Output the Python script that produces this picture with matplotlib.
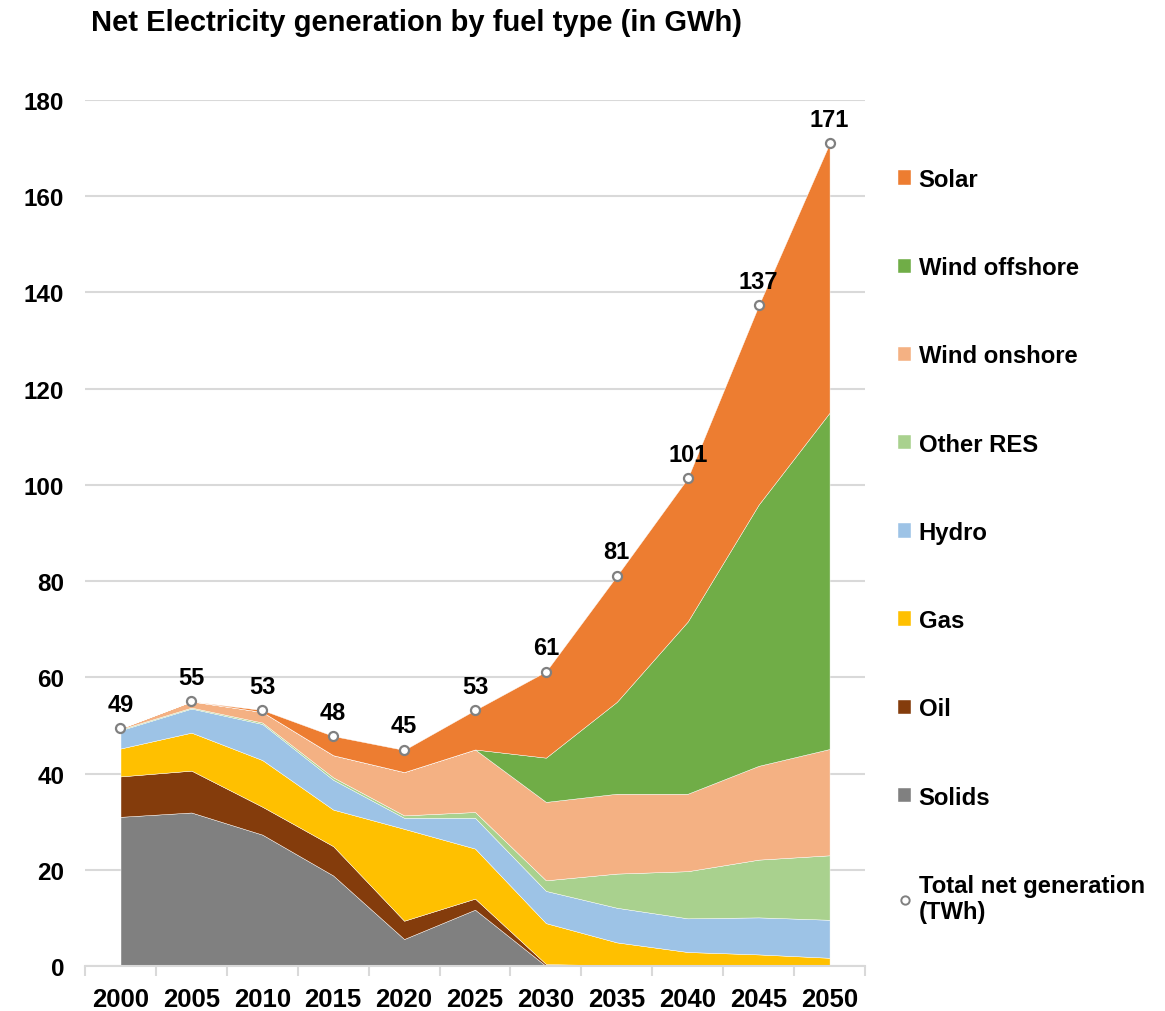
import matplotlib.pyplot as plt
from matplotlib.lines import Line2D

plt.rcParams['font.family'] = ['Liberation Sans', 'DejaVu Sans']
plt.rcParams['font.weight'] = 'bold'

years = ['2000', '2005', '2010', '2015', '2020', '2025', '2030', '2035', '2040', '2045', '2050']

solids = [31.0, 31.9, 27.3, 18.8, 5.6, 11.7, 0.0, 0.0, 0.0, 0.0, 0.0]
oil = [8.4, 8.7, 5.8, 6.1, 3.8, 2.3, 0.4, 0.1, 0.0, 0.0, 0.0]
gas = [5.8, 7.9, 9.7, 7.6, 19.1, 10.4, 8.5, 4.8, 2.9, 2.4, 1.7]
hydro = [3.8, 5.0, 7.5, 6.2, 2.3, 6.4, 6.7, 7.2, 7.0, 7.7, 7.9]
other_res = [0.2, 0.2, 0.3, 0.5, 0.5, 1.2, 2.2, 7.1, 9.8, 12.0, 13.4]
wind_onshore = [0.2, 1.3, 2.2, 4.6, 9.0, 13.0, 16.3, 16.6, 16.1, 19.5, 22.1]
wind_offshore = [0.0, 0.0, 0.0, 0.0, 0.0, 0.0, 9.2, 19.1, 35.8, 54.3, 69.9]
solar = [0.0, 0.0, 0.4, 4.0, 4.6, 8.2, 17.9, 26.2, 29.8, 41.4, 56.0]

series = [solids, oil, gas, hydro, other_res, wind_onshore, wind_offshore, solar]
names = ['Solids', 'Oil', 'Gas', 'Hydro', 'Other RES', 'Wind onshore', 'Wind offshore', 'Solar']
colors = ['#808080', '#843C0C', '#FFC000', '#9DC3E6', '#A9D18E', '#F4B183', '#70AD47', '#ED7D31']

totals = [sum(v) for v in zip(*series)]
x = list(range(len(years)))

fig = plt.figure(figsize=(11.65, 10.12), dpi=100)
ax = fig.add_axes([0.073, 0.0445, 0.6695, 0.8557])

polys = ax.stackplot(x, *series, colors=colors, labels=names,
                     edgecolor='white', linewidth=0.3, zorder=2)
ax.plot(x, totals, linestyle='none', marker='o', markersize=6.5,
        markerfacecolor='white', markeredgecolor='#808080', markeredgewidth=1.6, zorder=4)
for xi, t in zip(x, totals):
    ax.annotate(f'{t:.0f}', (xi, t), xytext=(0, 9), textcoords='offset points',
                ha='center', va='bottom', fontsize=17, fontweight='bold')

ax.set_xlim(-0.5, 10.5)
ax.set_ylim(0, 180)
ax.set_yticks(range(0, 181, 20))
ax.yaxis.grid(True, color='#d9d9d9', linewidth=1.5, zorder=0)
ax.set_axisbelow(True)

ax.set_xticks(x)
ax.set_xticklabels(years)
ax.set_xticks([i - 0.5 for i in range(len(years) + 1)], minor=True)
ax.tick_params(axis='x', which='major', length=0, pad=15, labelsize=18.5)
ax.tick_params(axis='x', which='minor', length=7, width=1.5, color='#d9d9d9')
ax.tick_params(axis='y', length=0, pad=15, labelsize=17.5)

for s in ['top', 'right', 'left']:
    ax.spines[s].set_visible(False)
ax.spines['bottom'].set_color('#d9d9d9')
ax.spines['bottom'].set_linewidth(1.5)

fig.text(0.078, 1 - 23 / 1012, 'Net Electricity generation by fuel type (in GWh)',
         fontsize=21, fontweight='bold', va='center', ha='left')

handles = list(reversed(polys))
labels = list(reversed(names))
handles.append(Line2D([], [], linestyle='none', marker='o', markersize=6,
                      markerfacecolor='white', markeredgecolor='#808080', markeredgewidth=1.4))
labels.append('Total net generation\n(TWh)')
fig.legend(handles, labels, loc='upper left', bbox_to_anchor=(0.771, 1 - 169 / 1012),
           frameon=False, fontsize=17.2, labelspacing=2.73, handlelength=0.55,
           handleheight=0.55, handletextpad=0.3, borderpad=0, borderaxespad=0)

fig.savefig('out.png', dpi=100)
